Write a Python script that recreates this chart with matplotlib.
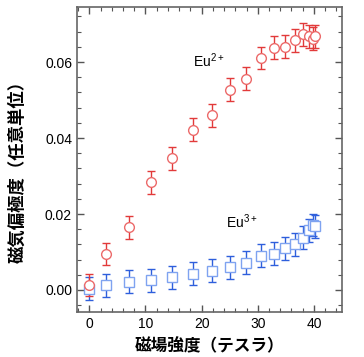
import matplotlib
matplotlib.use("Agg")
import matplotlib.pyplot as plt
from matplotlib.ticker import MultipleLocator

# Eu2+ (red circles)
x_eu2 = [0.0, 3.0, 7.1, 10.9, 14.8, 18.4, 21.8, 25.0, 27.9, 30.5, 32.8, 34.9, 36.6, 38.0, 39.1, 39.8, 40.2]
y_eu2 = [0.0013, 0.0095, 0.0165, 0.0284, 0.0347, 0.0422, 0.0460, 0.0527, 0.0556, 0.0611,
         0.0638, 0.0640, 0.0657, 0.0673, 0.0668, 0.0662, 0.0668]
e_eu2 = [0.003] * len(x_eu2)

# Eu3+ (blue squares)
x_eu3 = [0.0, 3.0, 7.1, 10.9, 14.8, 18.4, 21.8, 25.0, 27.9, 30.5, 32.8, 34.9, 36.6, 38.0, 39.1, 39.8, 40.2]
y_eu3 = [0.0003, 0.0012, 0.0022, 0.0026, 0.0033, 0.0043, 0.0051, 0.0060, 0.0072, 0.0090,
         0.0096, 0.0110, 0.0120, 0.0138, 0.0157, 0.0171, 0.0168]
e_eu3 = [0.003] * len(x_eu3)

xticks = [0, 10, 20, 30, 40]
yticks = [0.00, 0.02, 0.04, 0.06]

plt.rcParams['font.family'] = ['Liberation Sans', 'Noto Sans CJK JP', 'DejaVu Sans']
plt.rcParams['mathtext.fontset'] = 'custom'
plt.rcParams['mathtext.rm'] = 'Liberation Sans'
plt.rcParams['mathtext.it'] = 'Liberation Sans'

fig = plt.figure(figsize=(3.64, 3.57), dpi=100)
ax = fig.add_axes([0.2115, 0.126, 0.7281, 0.8544])

ax.errorbar(x_eu3, y_eu3, yerr=e_eu3, fmt='s', ms=6.5, mfc='white', mec='#7fa3f0',
            mew=1.0, ecolor='#2e5fdc', elinewidth=1.0, capsize=3, capthick=1.0)
ax.errorbar(x_eu2, y_eu2, yerr=e_eu2, fmt='o', ms=7, mfc='white', mec='#ec6a6a',
            mew=1.0, ecolor='#e23a3a', elinewidth=1.0, capsize=3, capthick=1.0)

ax.text(18.4, 0.0603, r'$\mathrm{Eu}^{2+}$', fontsize=10, va='center', ha='left')
ax.text(24.4, 0.0180, r'$\mathrm{Eu}^{3+}$', fontsize=10, va='center', ha='left')

ax.set_xlim(-2.2, 45)
ax.set_ylim(-0.0058, 0.0745)
ax.set_xticks(xticks)
ax.set_yticks(yticks)
ax.set_yticklabels(['%.2f' % v for v in yticks])
ax.xaxis.set_minor_locator(MultipleLocator(2))
ax.yaxis.set_minor_locator(MultipleLocator(0.004))
ax.tick_params(which='both', direction='in', top=True, right=True, colors='#555555',
               labelcolor='black', labelsize=10)
ax.tick_params(which='major', length=5, width=1)
ax.tick_params(which='minor', length=3, width=0.8)
for s in ax.spines.values():
    s.set_color('#666666')
    s.set_linewidth(1.2)

ax.set_xlabel('磁場強度（テスラ）', fontsize=12, fontweight='bold',
              family=['Noto Sans CJK JP', 'DejaVu Sans'], labelpad=5)
ax.set_ylabel('磁気偏極度（任意単位）', fontsize=12.5, fontweight='bold',
              family=['Noto Sans CJK JP', 'DejaVu Sans'])
ax.yaxis.set_label_coords(-0.19, 0.474)

fig.savefig('out.png', dpi=100)
